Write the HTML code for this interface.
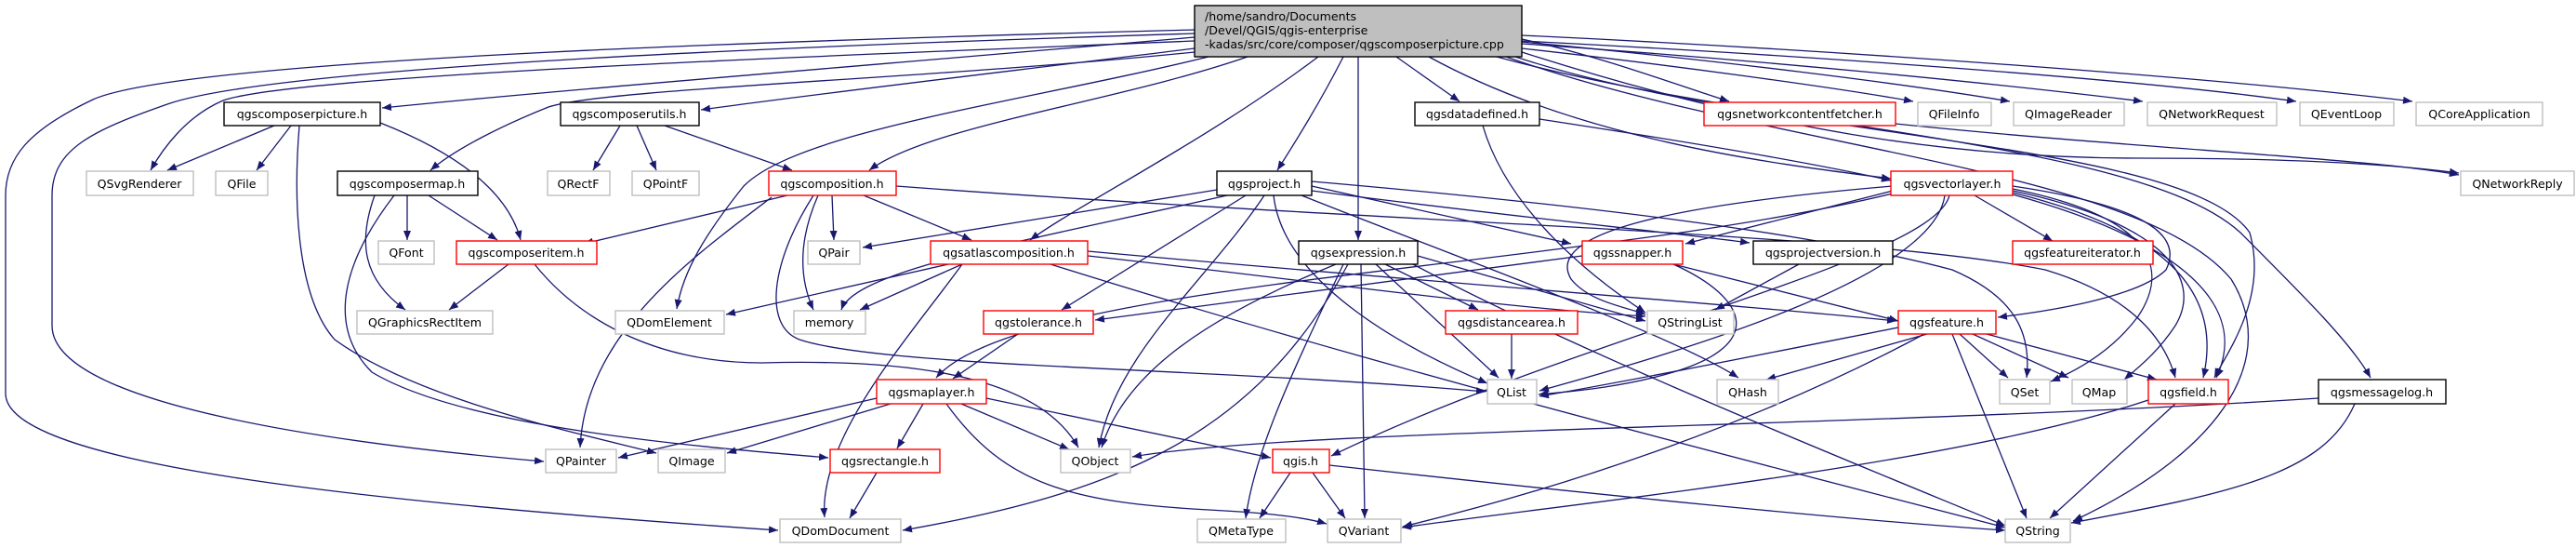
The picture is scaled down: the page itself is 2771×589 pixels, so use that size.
<!DOCTYPE html>
<html><head><meta charset="utf-8"><style>
html,body{margin:0;padding:0;background:#fff;}
svg{display:block;}
text{font-family:"DejaVu Sans","Liberation Sans",sans-serif;font-size:12.6px;fill:#000;text-anchor:middle;}
.e{fill:none;stroke:#191970;stroke-width:1.3;marker-end:url(#a);}
.n{fill:#fff;stroke:#000;stroke-width:1.4;}
.r{fill:#fff;stroke:#f00;stroke-width:1.4;}
.g{fill:#fff;stroke:#bfbfbf;stroke-width:1.4;}
</style></head><body>
<svg width="2771" height="589" viewBox="0 0 2771 589" xmlns="http://www.w3.org/2000/svg">
<defs><marker id="a" markerWidth="10" markerHeight="8" refX="10" refY="4" orient="auto" markerUnits="userSpaceOnUse"><path d="M0,0 L10,4 L0,8 z" fill="#191970"/></marker></defs>
<g>
<path class="e" d="M1285,40 C1000,65 620,95 411,116"/>
<path class="e" d="M1285,52 C1100,75 900,98 754,118"/>
<path class="e" d="M1285,44 C900,60 320,80 240,108 C200,125 175,160 162,183"/>
<path class="e" d="M1285,56 C1000,85 650,95 590,115 C540,135 490,160 463,183"/>
<path class="e" d="M1342,61 C1200,110 1000,135 935,183"/>
<path class="e" d="M1285,36 C900,48 300,70 180,112 C100,140 56,160 56,210 L56,350 C56,440 400,480 585,496"/>
<path class="e" d="M1285,32 C900,42 200,62 100,107 C30,140 6,170 6,210 L6,423 C6,500 400,540 837,570"/>
<path class="e" d="M1300,61 C1100,110 860,140 800,200 C760,250 735,290 728,332"/>
<path class="e" d="M1445,61 C1420,110 1395,150 1374,183"/>
<path class="e" d="M1418,61 C1300,150 1160,220 1108,258"/>
<path class="e" d="M1461,61 L1461,258"/>
<path class="e" d="M1502,61 L1570,109"/>
<path class="e" d="M1537,61 C1700,150 1900,175 2034,192"/>
<path class="e" d="M1637,42 C1720,60 1800,90 1860,109"/>
<path class="e" d="M1637,52 C1800,70 1980,95 2058,109"/>
<path class="e" d="M1637,45 C1850,65 2050,90 2162,109"/>
<path class="e" d="M1637,47 C1900,65 2150,90 2305,109"/>
<path class="e" d="M1637,44 C1950,60 2300,85 2470,109"/>
<path class="e" d="M1637,38 C2000,55 2400,85 2595,109"/>
<path class="e" d="M1610,61 C1900,140 2300,150 2410,250 C2480,320 2530,370 2550,406"/>
<path class="e" d="M1637,56 C1900,140 2100,170 2300,170 C2500,170 2600,180 2645,186"/>
<path class="e" d="M1630,61 C1900,150 2350,150 2420,250 C2440,320 2395,380 2382,406"/>
<path class="e" d="M1620,61 C1900,160 2300,180 2400,300 C2450,380 2400,480 2230,560"/>
<path class="e" d="M295,135 L180,183"/>
<path class="e" d="M313,135 L276,183"/>
<path class="e" d="M409,132 C480,160 545,200 560,258"/>
<path class="e" d="M322,135 C315,220 320,320 360,365 C450,430 620,465 706,487"/>
<path class="e" d="M667,135 L638,183"/>
<path class="e" d="M685,135 L706,183"/>
<path class="e" d="M715,135 L852,183"/>
<path class="e" d="M438,210 L438,258"/>
<path class="e" d="M461,210 L535,258"/>
<path class="e" d="M403,210 C385,260 390,300 436,333"/>
<path class="e" d="M424,210 C370,280 350,350 400,400 C500,460 750,480 891,492"/>
<path class="e" d="M547,284 L483,333"/>
<path class="e" d="M575,284 C620,340 700,390 820,390 C1000,385 1120,410 1160,481"/>
<path class="e" d="M847,210 L628,262"/>
<path class="e" d="M895,210 L897,258"/>
<path class="e" d="M929,210 L1045,258"/>
<path class="e" d="M830,212 C740,280 630,360 624,481"/>
<path class="e" d="M880,210 C858,260 860,300 875,333"/>
<path class="e" d="M875,210 C830,280 820,350 860,365 C950,395 1300,395 1598,421"/>
<path class="e" d="M964,200 C1500,240 2000,250 2200,290 C2300,320 2330,370 2340,406"/>
<path class="e" d="M1309,204 L928,266"/>
<path class="e" d="M1320,210 C1100,260 920,290 905,333"/>
<path class="e" d="M1360,210 C1300,300 1200,380 1182,481"/>
<path class="e" d="M1340,210 L1142,333"/>
<path class="e" d="M1370,210 C1380,300 1500,370 1600,412"/>
<path class="e" d="M1400,210 C1550,270 1800,360 1870,406"/>
<path class="e" d="M1411,200 L1690,262"/>
<path class="e" d="M1411,205 C1600,230 1800,250 1882,261"/>
<path class="e" d="M1411,195 C1700,220 1950,250 2100,290 C2170,320 2185,360 2180,406"/>
<path class="e" d="M1525,275 L1770,345"/>
<path class="e" d="M1480,284 L1612,406"/>
<path class="e" d="M1490,284 L1590,333"/>
<path class="e" d="M1445,284 C1400,380 1350,480 1340,557"/>
<path class="e" d="M1464,284 L1468,557"/>
<path class="e" d="M1450,284 C1350,470 1200,530 971,570"/>
<path class="e" d="M1437,284 C1300,340 1210,400 1185,481"/>
<path class="e" d="M1520,284 C1700,380 2000,500 2157,565"/>
<path class="e" d="M1035,284 L925,333"/>
<path class="e" d="M1020,284 L781,338"/>
<path class="e" d="M1035,284 C980,360 880,470 887,556"/>
<path class="e" d="M1170,275 C1400,300 1600,330 1770,340"/>
<path class="e" d="M1130,284 C1500,400 1900,500 2157,567"/>
<path class="e" d="M1170,270 C1500,300 1900,330 2040,345"/>
<path class="e" d="M1702,275 L1178,344"/>
<path class="e" d="M1800,284 L2042,345"/>
<path class="e" d="M1800,284 C1880,320 1900,370 1800,400 C1750,415 1700,420 1655,424"/>
<path class="e" d="M1095,359 L1025,407"/>
<path class="e" d="M1626,359 L1626,407"/>
<path class="e" d="M943,428 L665,492"/>
<path class="e" d="M958,434 L782,487"/>
<path class="e" d="M993,434 L965,482"/>
<path class="e" d="M1034,434 L1150,483"/>
<path class="e" d="M1061,428 L1367,492"/>
<path class="e" d="M1018,434 C1080,520 1150,540 1300,548 C1380,552 1410,558 1427,563"/>
<path class="e" d="M943,508 L914,557"/>
<path class="e" d="M1388,508 L1355,557"/>
<path class="e" d="M1412,508 L1447,557"/>
<path class="e" d="M1430,500 C1700,530 2000,560 2157,570"/>
<path class="e" d="M2494,428 C2000,460 1400,460 1218,491"/>
<path class="e" d="M2533,434 C2500,510 2400,530 2228,562"/>
<path class="e" d="M2340,434 L2205,557"/>
<path class="e" d="M2311,430 C2100,500 1700,540 1508,567"/>
<path class="e" d="M2108,359 L2160,406"/>
<path class="e" d="M2122,359 L2225,406"/>
<path class="e" d="M2137,359 L2320,408"/>
<path class="e" d="M2100,359 L2180,557"/>
<path class="e" d="M2073,359 L1900,408"/>
<path class="e" d="M2042,352 C1900,380 1750,410 1656,426"/>
<path class="e" d="M2070,359 C1900,450 1700,520 1509,566"/>
<path class="e" d="M2124,210 L2208,259"/>
<path class="e" d="M2165,200 C2300,220 2350,250 2330,290 C2300,320 2200,335 2149,341"/>
<path class="e" d="M2165,203 C2300,230 2340,280 2300,340 C2270,380 2230,400 2206,410"/>
<path class="e" d="M2165,205 C2330,240 2370,300 2340,350 C2320,380 2300,395 2285,408"/>
<path class="e" d="M2165,207 C2340,250 2390,320 2370,406"/>
<path class="e" d="M2165,209 C2350,260 2420,330 2384,406"/>
<path class="e" d="M2092,210 C2080,300 1800,380 1656,420"/>
<path class="e" d="M2097,210 C2080,280 1700,360 1432,490"/>
<path class="e" d="M2036,208 C1700,290 1100,300 1007,406"/>
<path class="e" d="M2036,205 L1813,262"/>
<path class="e" d="M2036,200 C1800,220 1660,250 1690,300 C1710,325 1750,330 1770,338"/>
<path class="e" d="M2039,133 C2300,160 2550,170 2645,188"/>
<path class="e" d="M1595,135 C1620,220 1700,290 1770,336"/>
<path class="e" d="M1656,128 C1800,150 1950,175 2034,194"/>
<path class="e" d="M1935,284 L1845,333"/>
</g>
<g>
<rect x="1285" y="6" width="352" height="55" fill="#bfbfbf" stroke="#000" stroke-width="1.4"/>
<text x="1296" y="22" style="text-anchor:start">/home/sandro/Documents</text>
<text x="1296" y="37" style="text-anchor:start">/Devel/QGIS/qgis-enterprise</text>
<text x="1296" y="52" style="text-anchor:start">-kadas/src/core/composer/qgscomposerpicture.cpp</text>

<rect class="n" x="241" y="110" width="168" height="25"/><text x="325" y="127">qgscomposerpicture.h</text>
<rect class="n" x="603" y="110" width="149" height="25"/><text x="677" y="127">qgscomposerutils.h</text>
<rect class="n" x="1522" y="110" width="134" height="25"/><text x="1589" y="127">qgsdatadefined.h</text>
<rect class="r" x="1833" y="110" width="206" height="25"/><text x="1936" y="127">qgsnetworkcontentfetcher.h</text>
<rect class="g" x="2063" y="110" width="79" height="25"/><text x="2102" y="127">QFileInfo</text>
<rect class="g" x="2166" y="110" width="119" height="25"/><text x="2225" y="127">QImageReader</text>
<rect class="g" x="2310" y="110" width="139" height="25"/><text x="2379" y="127">QNetworkRequest</text>
<rect class="g" x="2474" y="110" width="101" height="25"/><text x="2524" y="127">QEventLoop</text>
<rect class="g" x="2599" y="110" width="136" height="25"/><text x="2667" y="127">QCoreApplication</text>

<rect class="g" x="93" y="184" width="115" height="26"/><text x="150" y="202">QSvgRenderer</text>
<rect class="g" x="232" y="184" width="56" height="26"/><text x="260" y="202">QFile</text>
<rect class="n" x="363" y="184" width="151" height="26"/><text x="438" y="202">qgscomposermap.h</text>
<rect class="g" x="589" y="184" width="67" height="26"/><text x="622" y="202">QRectF</text>
<rect class="g" x="680" y="184" width="72" height="26"/><text x="716" y="202">QPointF</text>
<rect class="r" x="827" y="184" width="137" height="26"/><text x="895" y="202">qgscomposition.h</text>
<rect class="n" x="1309" y="184" width="102" height="26"/><text x="1360" y="202">qgsproject.h</text>
<rect class="r" x="2034" y="184" width="131" height="26"/><text x="2100" y="202">qgsvectorlayer.h</text>
<rect class="g" x="2647" y="184" width="122" height="26"/><text x="2708" y="202">QNetworkReply</text>

<rect class="g" x="407" y="259" width="60" height="25"/><text x="437" y="276">QFont</text>
<rect class="r" x="491" y="259" width="151" height="25"/><text x="566" y="276">qgscomposeritem.h</text>
<rect class="g" x="869" y="259" width="56" height="25"/><text x="897" y="276">QPair</text>
<rect class="r" x="1001" y="259" width="169" height="25"/><text x="1085" y="276">qgsatlascomposition.h</text>
<rect class="n" x="1397" y="259" width="128" height="25"/><text x="1461" y="276">qgsexpression.h</text>
<rect class="r" x="1702" y="259" width="108" height="25"/><text x="1756" y="276">qgssnapper.h</text>
<rect class="n" x="1886" y="259" width="150" height="25"/><text x="1961" y="276">qgsprojectversion.h</text>
<rect class="r" x="2165" y="259" width="151" height="25"/><text x="2240" y="276">qgsfeatureiterator.h</text>

<rect class="g" x="384" y="334" width="146" height="25"/><text x="457" y="351">QGraphicsRectItem</text>
<rect class="g" x="662" y="334" width="117" height="25"/><text x="720" y="351">QDomElement</text>
<rect class="g" x="854" y="334" width="77" height="25"/><text x="892" y="351">memory</text>
<rect class="r" x="1058" y="334" width="118" height="25"/><text x="1117" y="351">qgstolerance.h</text>
<rect class="r" x="1555" y="334" width="142" height="25"/><text x="1626" y="351">qgsdistancearea.h</text>
<rect class="g" x="1772" y="334" width="93" height="25"/><text x="1818" y="351">QStringList</text>
<rect class="r" x="2042" y="334" width="105" height="25"/><text x="2094" y="351">qgsfeature.h</text>

<rect class="r" x="943" y="408" width="118" height="26"/><text x="1002" y="426">qgsmaplayer.h</text>
<rect class="g" x="1600" y="408" width="53" height="26"/><text x="1626" y="426">QList</text>
<rect class="g" x="1847" y="408" width="66" height="26"/><text x="1880" y="426">QHash</text>
<rect class="g" x="2151" y="408" width="54" height="26"/><text x="2178" y="426">QSet</text>
<rect class="g" x="2229" y="408" width="59" height="26"/><text x="2258" y="426">QMap</text>
<rect class="r" x="2311" y="408" width="86" height="26"/><text x="2354" y="426">qgsfield.h</text>
<rect class="n" x="2494" y="408" width="137" height="26"/><text x="2562" y="426">qgsmessagelog.h</text>

<rect class="g" x="587" y="483" width="76" height="25"/><text x="625" y="500">QPainter</text>
<rect class="g" x="708" y="483" width="72" height="25"/><text x="744" y="500">QImage</text>
<rect class="r" x="893" y="483" width="118" height="25"/><text x="952" y="500">qgsrectangle.h</text>
<rect class="g" x="1141" y="483" width="75" height="25"/><text x="1178" y="500">QObject</text>
<rect class="r" x="1369" y="483" width="61" height="25"/><text x="1399" y="500">qgis.h</text>

<rect class="g" x="839" y="558" width="130" height="25"/><text x="904" y="575">QDomDocument</text>
<rect class="g" x="1288" y="558" width="95" height="25"/><text x="1335" y="575">QMetaType</text>
<rect class="g" x="1428" y="558" width="79" height="25"/><text x="1467" y="575">QVariant</text>
<rect class="g" x="2157" y="558" width="70" height="25"/><text x="2192" y="575">QString</text>
</g>
</svg>
</body></html>
